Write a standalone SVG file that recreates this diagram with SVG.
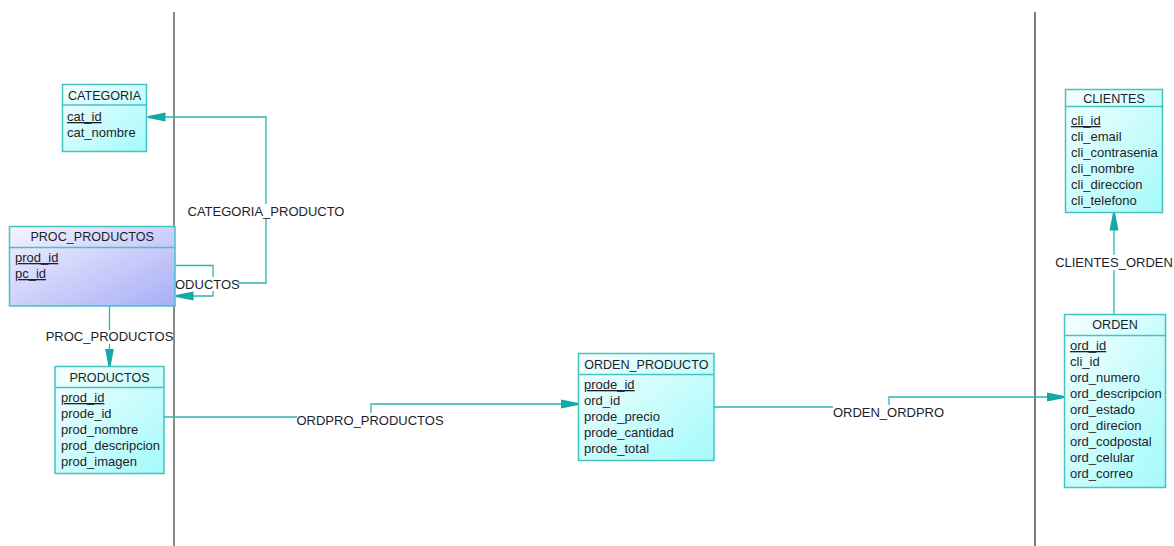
<svg xmlns="http://www.w3.org/2000/svg" width="1174" height="546" viewBox="0 0 1174 546">
<style>
.box{stroke:#45c2c2;stroke-width:1.5;fill:url(#cyan)}
.pbox{stroke:#45c2c2;stroke-width:1.5;fill:url(#violet)}
.div{stroke:#45c2c2;stroke-width:1.5}
.t{font-family:"Liberation Sans",Arial,sans-serif;font-size:13px;fill:#1e1e2a}
.title{font-family:"Liberation Sans",Arial,sans-serif;font-size:12.6px;fill:#1e1e2a;text-anchor:middle}
.pk{text-decoration:underline}
.conn{fill:none;stroke:#2cb5b5;stroke-width:1.3}
.lbl{font-family:"Liberation Sans",Arial,sans-serif;font-size:13px;fill:#1e1e2a;text-anchor:middle}
.lblbg{fill:#ffffff}
</style>
<defs>
<linearGradient id="cyan" x1="0" y1="0" x2="1" y2="1">
<stop offset="0" stop-color="#f6ffff"/>
<stop offset="1" stop-color="#a4fafa"/>
</linearGradient>
<linearGradient id="violet" x1="0" y1="0" x2="1" y2="1">
<stop offset="0" stop-color="#f4f4ff"/>
<stop offset="1" stop-color="#a8adf6"/>
</linearGradient>
<marker id="arr" markerUnits="userSpaceOnUse" markerWidth="18" markerHeight="10" refX="18" refY="5" orient="auto">
<path d="M0,0.5 L18,4 L18,6 L0,9.5 Z" fill="#12a9a9"/>
</marker>
</defs>
<rect x="0" y="0" width="1174" height="546" fill="#ffffff"/>
<g id="separators">
<line x1="174" y1="12" x2="174" y2="546" stroke="#6e6e6e" stroke-width="1.6"/>
<line x1="1035" y1="12" x2="1035" y2="546" stroke="#333333" stroke-width="1.3"/>
</g>
<g id="connectors">
<path class="conn" d="M237,283 H266 V117 H147.5" marker-end="url(#arr)"/>
<path class="conn" d="M175.5,265.5 H213 V296 H175.5" marker-end="url(#arr)"/>
<path class="conn" d="M109.5,306 V366.5" marker-end="url(#arr)"/>
<path class="conn" d="M164,417 H371 V404 H578.5" marker-end="url(#arr)"/>
<path class="conn" d="M714,407 H889 V397 H1064.5" marker-end="url(#arr)"/>
<path class="conn" d="M1114,314.5 V212.5" marker-end="url(#arr)"/>
<rect class="lblbg" x="188" y="204" width="156" height="15"/>
<text class="lbl" x="266" y="216">CATEGORIA_PRODUCTO</text>
<rect class="lblbg" x="175" y="277" width="63" height="14"/>
<text class="t" x="175" y="289">ODUCTOS</text>
<rect class="lblbg" x="46" y="330" width="127" height="14"/>
<text class="lbl" x="109.5" y="341">PROC_PRODUCTOS</text>
<rect class="lblbg" x="297" y="413" width="147" height="15"/>
<text class="lbl" x="370" y="425">ORDPRO_PRODUCTOS</text>
<rect class="lblbg" x="833" y="405" width="111" height="15"/>
<text class="lbl" x="888.5" y="417">ORDEN_ORDPRO</text>
<rect class="lblbg" x="1056" y="255" width="117" height="15"/>
<text class="lbl" x="1114" y="267">CLIENTES_ORDEN</text>
</g>
<g id="CATEGORIA">
<rect class="box" x="62.5" y="84.5" width="84" height="67"/>
<line class="div" x1="62.5" y1="105" x2="146.5" y2="105"/>
<text class="title" x="104.5" y="100">CATEGORIA</text>
<text class="t pk" x="67" y="121">cat_id</text>
<text class="t" x="67" y="137">cat_nombre</text>
</g>
<g id="PROC_PRODUCTOS">
<rect class="pbox" x="9.5" y="226.5" width="165.5" height="79.5"/>
<line class="div" x1="9.5" y1="247.5" x2="175" y2="247.5"/>
<text class="title" x="92.2" y="241">PROC_PRODUCTOS</text>
<text class="t pk" x="15" y="262">prod_id</text>
<text class="t pk" x="15" y="278">pc_id</text>
</g>
<g id="PRODUCTOS">
<rect class="box" x="55" y="366.5" width="109" height="107"/>
<line class="div" x1="55" y1="387.5" x2="164" y2="387.5"/>
<text class="title" x="109.5" y="381.5">PRODUCTOS</text>
<text class="t pk" x="61" y="402">prod_id</text>
<text class="t" x="61" y="418">prode_id</text>
<text class="t" x="61" y="434">prod_nombre</text>
<text class="t" x="61" y="450">prod_descripcion</text>
<text class="t" x="61" y="466">prod_imagen</text>
</g>
<g id="ORDEN_PRODUCTO">
<rect class="box" x="578.5" y="353.5" width="135.5" height="107"/>
<line class="div" x1="578.5" y1="374.5" x2="714" y2="374.5"/>
<text class="title" x="646.3" y="368.5">ORDEN_PRODUCTO</text>
<text class="t pk" x="584" y="389">prode_id</text>
<text class="t" x="584" y="405">ord_id</text>
<text class="t" x="584" y="421">prode_precio</text>
<text class="t" x="584" y="437">prode_cantidad</text>
<text class="t" x="584" y="453">prode_total</text>
</g>
<g id="CLIENTES">
<rect class="box" x="1065.5" y="89.5" width="97" height="123"/>
<line class="div" x1="1065.5" y1="106.5" x2="1162.5" y2="106.5"/>
<text class="title" x="1114" y="102.5">CLIENTES</text>
<text class="t pk" x="1071" y="125">cli_id</text>
<text class="t" x="1071" y="141">cli_email</text>
<text class="t" x="1071" y="157">cli_contrasenia</text>
<text class="t" x="1071" y="173">cli_nombre</text>
<text class="t" x="1071" y="189">cli_direccion</text>
<text class="t" x="1071" y="205">cli_telefono</text>
</g>
<g id="ORDEN">
<rect class="box" x="1064.5" y="314.5" width="101" height="173"/>
<line class="div" x1="1064.5" y1="335.5" x2="1165.5" y2="335.5"/>
<text class="title" x="1115" y="329">ORDEN</text>
<text class="t pk" x="1070" y="350">ord_id</text>
<text class="t" x="1070" y="366">cli_id</text>
<text class="t" x="1070" y="382">ord_numero</text>
<text class="t" x="1070" y="398">ord_descripcion</text>
<text class="t" x="1070" y="414">ord_estado</text>
<text class="t" x="1070" y="430">ord_direcion</text>
<text class="t" x="1070" y="446">ord_codpostal</text>
<text class="t" x="1070" y="462">ord_celular</text>
<text class="t" x="1070" y="478">ord_correo</text>
</g>
</svg>
